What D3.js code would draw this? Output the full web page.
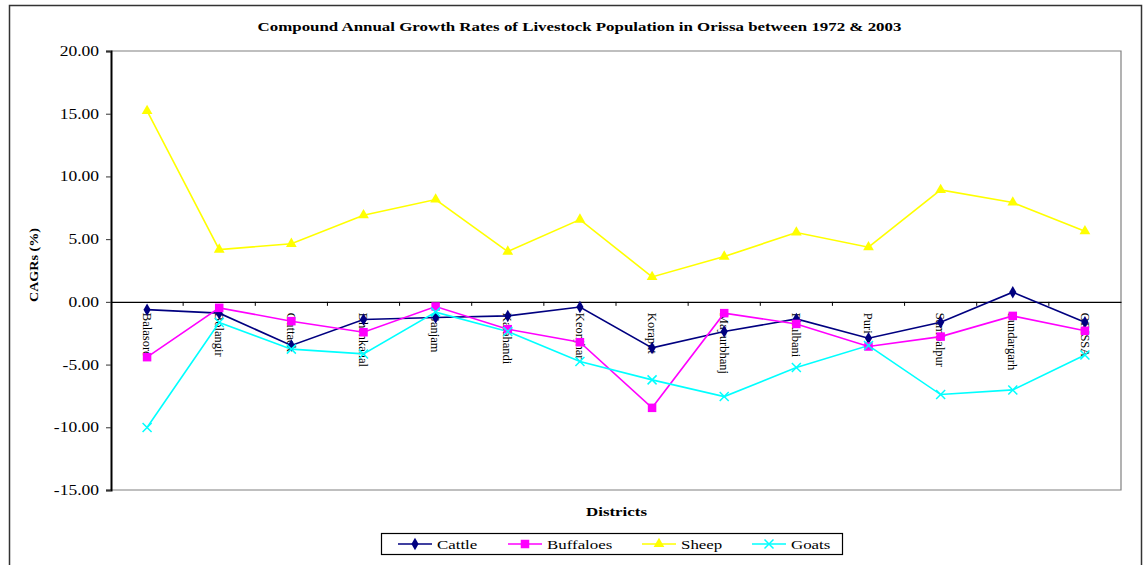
<!DOCTYPE html>
<html><head><meta charset="utf-8">
<script src="https://cdn.jsdelivr.net/npm/d3@7"></script>
<style>body{margin:0;background:#fff}svg{display:block}svg text{font-family:"Liberation Serif","Times New Roman",serif !important}</style>
</head><body>
<svg id="c" width="1147" height="565"></svg>
<script>
const districts = ["Balasore","Bolangir","Cuttack","Dhenkanal","Ganjam","Kalahandi","Keonjhar","Koraput","Mayurbhanj","Phulbani","Puri","Sambalpur","Sundargarh","ORISSA"];
const cattle    = [-0.62,-0.90,-3.48,-1.41,-1.25,-1.12,-0.41,-3.67,-2.37,-1.36,-2.90,-1.62,0.77,-1.62];
const buffaloes = [-4.41,-0.48,-1.54,-2.42,-0.37,-2.18,-3.22,-8.45,-0.90,-1.76,-3.56,-2.77,-1.12,-2.31];
const sheep     = [15.23,4.17,4.63,6.91,8.16,4.01,6.56,1.99,3.61,5.53,4.36,8.93,7.92,5.63];
const goats     = [-10.02,-1.65,-3.77,-4.15,-0.82,-2.37,-4.76,-6.22,-7.55,-5.24,-3.48,-7.39,-7.02,-4.23];
const yTicks    = [20,15,10,5,0,-5,-10,-15];

const series = [
  {name:"Cattle", values:cattle, color:"#000080", marker:"diamond"},
  {name:"Buffaloes", values:buffaloes, color:"#FF00FF", marker:"square"},
  {name:"Sheep", values:sheep, color:"#FFFF00", marker:"triangle"},
  {name:"Goats", values:goats, color:"#00FFFF", marker:"x"}
];

const STRETCH = 1.25;
function stretch(sel){
  sel.each(function(){
    const w=this.getComputedTextLength();
    d3.select(this).attr("textLength",w*STRETCH).attr("lengthAdjust","spacingAndGlyphs");
  });
}

const svg = d3.select("#c");
const L=111, R=1121, T=51, B=490;

svg.append("rect").attr("x",9.5).attr("y",5.5).attr("width",1132).attr("height",600)
  .attr("fill","none").attr("stroke","#333").attr("stroke-width",1.5);

const x = d3.scaleBand().domain(districts).range([L,R]);
const y = d3.scaleLinear().domain([-15,20]).range([B,T]);

svg.append("path").attr("d",`M${L},${T}H${R}V${B}H${L}`).attr("fill","none").attr("stroke","#808080").attr("stroke-width",1.2);

const yAxis = d3.axisLeft(y).tickValues(yTicks).tickFormat(d=>d.toFixed(2)).tickSize(5).tickPadding(7);
const gy = svg.append("g").attr("transform",`translate(${L},0)`).call(yAxis);
gy.select(".domain").attr("stroke","#000").attr("stroke-width",2);
gy.selectAll(".tick line").attr("stroke","#333");
gy.selectAll(".tick text").attr("font-size",14).attr("fill","#000").call(stretch);

const xAxis = d3.axisBottom(x).tickSize(0).tickFormat("");
const gx = svg.append("g").attr("transform",`translate(0,${y(0)})`).call(xAxis);
gx.select(".domain").attr("stroke","#000").attr("stroke-width",1.2);
const bounds = districts.slice(1).map(d=>x(d));
gx.selectAll("line.bt").data(bounds).enter().append("line").attr("class","bt")
  .attr("x1",d=>d).attr("x2",d=>d).attr("y1",0).attr("y2",4).attr("stroke","#000");

svg.append("g").selectAll("text").data(districts).enter().append("text")
  .attr("transform",d=>`translate(${x(d)+x.bandwidth()/2},${y(0)+11}) rotate(90)`)
  .attr("dy","0.35em").attr("font-size",12.5).attr("fill","#000").text(d=>d);

const cx = d=>x(d)+x.bandwidth()/2;
const line = d3.line().x((v,i)=>cx(districts[i])).y(v=>y(v));
series.forEach(s=>{
  svg.append("path").datum(s.values).attr("d",line).attr("fill","none").attr("stroke",s.color).attr("stroke-width",1.6);
});

function drawMarker(g, type, color, px, py){
  if(type==="diamond"){
    g.append("path").attr("d",d3.symbol(d3.symbolDiamond, 45)()).attr("transform",`translate(${px},${py})`).attr("fill",color);
  } else if(type==="square"){
    const s=8.5;
    g.append("rect").attr("x",px-s/2).attr("y",py-s/2).attr("width",s).attr("height",s).attr("fill",color);
  } else if(type==="triangle"){
    g.append("path").attr("d",d3.symbol(d3.symbolTriangle, 50)()).attr("transform",`translate(${px},${py})`).attr("fill",color);
  } else {
    const s=4.5;
    g.append("path").attr("d",`M${px-s},${py-s}L${px+s},${py+s}M${px-s},${py+s}L${px+s},${py-s}`).attr("stroke",color).attr("stroke-width",1.5);
  }
}
series.forEach(s=>{
  const g=svg.append("g");
  s.values.forEach((v,i)=>drawMarker(g,s.marker,s.color,cx(districts[i]),y(v)));
});

svg.append("text").attr("x",579.5).attr("y",31).attr("text-anchor","middle").attr("font-size",13.5).attr("font-weight","bold")
  .text("Compound Annual Growth Rates of Livestock Population in Orissa between 1972 & 2003").call(stretch);
svg.append("text").attr("x",616.5).attr("y",516).attr("text-anchor","middle").attr("font-size",13.5).attr("font-weight","bold").text("Districts").call(stretch);
svg.append("text").attr("transform","translate(38,265) rotate(-90)").attr("text-anchor","middle").attr("font-size",11.5).attr("font-weight","bold")
  .attr("textLength",74).attr("lengthAdjust","spacingAndGlyphs").text("CAGRs (%)");

svg.append("rect").attr("x",381.5).attr("y",533.5).attr("width",461).attr("height",21).attr("fill","#fff").attr("stroke","#000").attr("stroke-width",1.2);
const legX=[398,508,642,752];
series.forEach((s,i)=>{
  const g=svg.append("g");
  const yy=544;
  g.append("line").attr("x1",legX[i]).attr("x2",legX[i]+34).attr("y1",yy).attr("y2",yy).attr("stroke",s.color).attr("stroke-width",1.6);
  drawMarker(g,s.marker,s.color,legX[i]+17,yy);
  g.append("text").attr("x",legX[i]+39).attr("y",yy).attr("dy","0.35em").attr("font-size",13.5).text(s.name).call(stretch);
});
</script>
</body></html>
